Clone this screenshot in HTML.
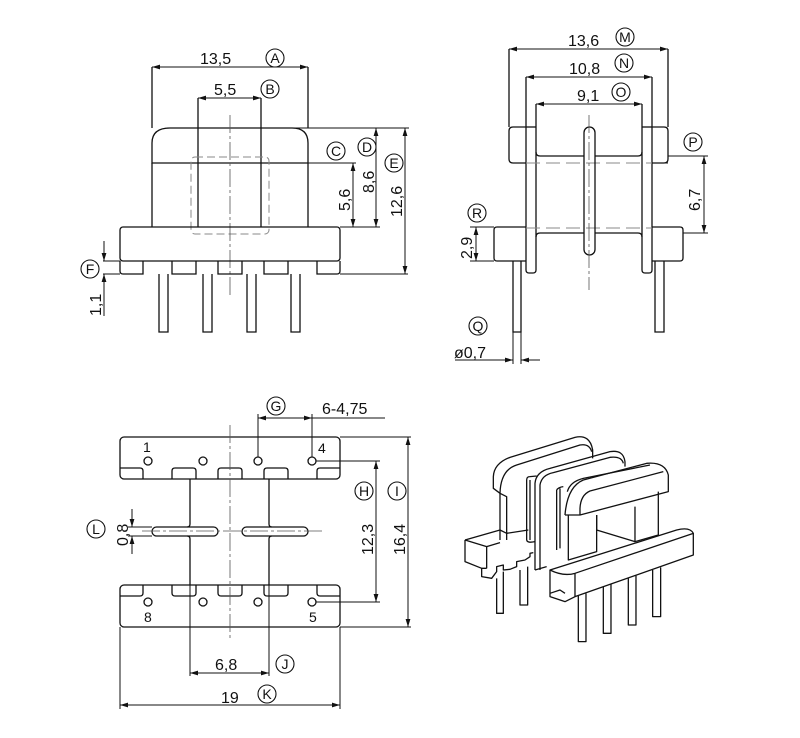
<!DOCTYPE html>
<html><head><meta charset="utf-8"><style>
html,body{margin:0;padding:0;background:#fff;}
svg{display:block;}
text{font-family:"Liberation Sans",sans-serif;fill:#111;}
.c{font-family:"Liberation Serif",serif;font-size:14px;text-anchor:middle;}
.t{font-size:16px;}
</style></head><body>
<svg width="800" height="738" viewBox="0 0 800 738" xmlns="http://www.w3.org/2000/svg">
<defs>
<marker id="a" viewBox="0 0 10 6" refX="10" refY="3" markerWidth="8" markerHeight="5" orient="auto-start-reverse" markerUnits="userSpaceOnUse"><path d="M0,0L10,3L0,6z" fill="#111"/></marker>
</defs>
<g fill="none" stroke="#111" stroke-width="1.3">
<!-- ===== TOP LEFT VIEW ===== -->
<path d="M152,163 L152,143 Q152,128 170,128 L292,128 Q308,128 308,143 L308,163 Z"/>
<path d="M152,163 L152,227 M308,163 L308,227"/>
<path d="M198,98 L198,227 M261,98 L261,227"/>
<path d="M152,67 L152,128 M308,67 L308,128"/>
<rect x="191" y="157" width="78" height="77" rx="4" stroke="#888" stroke-dasharray="8,4" stroke-width="1"/>
<path d="M230,115 L230,298" stroke="#555" stroke-width="0.8" stroke-dasharray="18,3,3,3"/>
<rect x="120" y="227" width="220" height="34" rx="3"/>
<path d="M120,261 L120,271 Q120,274 123,274 L143,274 L143,261"/>
<path d="M172,261 L172,274 L196,274 L196,261 M218,261 L218,274 L242,274 L242,261 M264,261 L264,274 L288,274 L288,261"/>
<path d="M317,261 L317,274 L337,274 Q340,274 340,271 L340,261"/>
<path d="M159,274 L159,332 L168,332 L168,274 M203,274 L203,332 L212,332 L212,274 M247,274 L247,332 L256,332 L256,274 M291,274 L291,332 L300,332 L300,274"/>
<path d="M152,67 L308,67" marker-start="url(#a)" marker-end="url(#a)" stroke-width="1"/>
<path d="M198,98 L261,98" marker-start="url(#a)" marker-end="url(#a)" stroke-width="1"/>
<path d="M308,163 L356,163 M292,128 L409,128 M340,227 L380,227 M340,274 L408,274" stroke-width="1"/>
<path d="M353,163 L353,227" marker-start="url(#a)" marker-end="url(#a)" stroke-width="1"/>
<path d="M376,128 L376,227" marker-start="url(#a)" marker-end="url(#a)" stroke-width="1"/>
<path d="M405,128 L405,274" marker-start="url(#a)" marker-end="url(#a)" stroke-width="1"/>
<path d="M103,261 L120,261 M103,274 L120,274" stroke-width="1"/>
<path d="M104,241 L104,261" marker-end="url(#a)" stroke-width="1"/>
<path d="M104,316 L104,274" marker-end="url(#a)" stroke-width="1"/>
<!-- ===== TOP RIGHT VIEW ===== -->
<path d="M509,49 L509,127 M526,77 L526,261 M536,104 L536,261 M642,104 L642,261 M652,77 L652,261 M668,49 L668,127"/>
<path d="M526,127 L513,127 Q509,127 509,131 L509,159 Q509,163 513,163 L526,163"/>
<path d="M526,127 L536,127"/>
<path d="M652,127 L664,127 Q668,127 668,131 L668,159 Q668,163 664,163 L652,163"/>
<path d="M642,127 L652,127"/>
<path d="M536,152 Q536,156 540,156 L584,156 M595,156 L638,156 Q642,156 642,152"/>
<path d="M526,163 L652,163 M526,228 L652,228" stroke="#888" stroke-dasharray="14,6" stroke-width="1"/>
<rect x="584" y="127" width="11" height="128" rx="5.5"/>
<path d="M589,115 L589,290" stroke="#555" stroke-width="0.8" stroke-dasharray="18,3,3,3"/>
<path d="M526,227 L497,227 Q494,227 494,230 L494,258 Q494,261 497,261 L526,261"/>
<path d="M652,227 L680,227 Q683,227 683,230 L683,258 Q683,261 680,261 L652,261"/>
<path d="M536,237 Q536,233 540,233 L584,233 M595,233 L638,233 Q642,233 642,237"/>
<path d="M526,261 L526,270 Q526,273 529,273 L533,273 Q536,273 536,270 L536,261"/>
<path d="M642,261 L642,270 Q642,273 645,273 L649,273 Q652,273 652,270 L652,261"/>
<path d="M513,261 L513,332 L521,332 L521,261 M655,261 L655,332 L664,332 L664,261"/>
<path d="M509,49 L668,49" marker-start="url(#a)" marker-end="url(#a)" stroke-width="1"/>
<path d="M526,77 L652,77" marker-start="url(#a)" marker-end="url(#a)" stroke-width="1"/>
<path d="M536,104 L642,104" marker-start="url(#a)" marker-end="url(#a)" stroke-width="1"/>
<path d="M668,156 L708,156 M652,163 L668,163 M683,233 L708,233" stroke-width="1"/>
<path d="M704,156 L704,233" marker-start="url(#a)" marker-end="url(#a)" stroke-width="1"/>
<path d="M470,227 L494,227 M470,261 L494,261" stroke-width="1"/>
<path d="M476,227 L476,261" marker-start="url(#a)" marker-end="url(#a)" stroke-width="1"/>
<path d="M513,332 L513,364 M521,332 L521,364" stroke-width="1"/>
<path d="M455,360 L513,360" marker-end="url(#a)" stroke-width="1"/>
<path d="M540,360 L521,360" marker-end="url(#a)" stroke-width="1"/>
<!-- ===== BOTTOM LEFT VIEW ===== -->
<rect x="120" y="437" width="220" height="42" rx="4"/>
<path d="M120,468 L140,468 Q143,468 143,471 L143,479 M172,479 L172,471 Q172,468 175,468 L193,468 Q196,468 196,471 L196,479 M218,479 L218,471 Q218,468 221,468 L239,468 Q242,468 242,471 L242,479 M264,479 L264,471 Q264,468 267,468 L285,468 Q288,468 288,471 L288,479 M317,479 L317,471 Q317,468 320,468 L340,468"/>
<rect x="120" y="585" width="220" height="42" rx="4"/>
<path d="M120,596 L140,596 Q143,596 143,593 L143,585 M172,585 L172,593 Q172,596 175,596 L193,596 Q196,596 196,593 L196,585 M218,585 L218,593 Q218,596 221,596 L239,596 Q242,596 242,593 L242,585 M264,585 L264,593 Q264,596 267,596 L285,596 Q288,596 288,593 L288,585 M317,585 L317,593 Q317,596 320,596 L340,596"/>
<circle cx="148" cy="461" r="4"/><circle cx="203" cy="461" r="4"/><circle cx="258" cy="461" r="4"/><circle cx="312" cy="461" r="4"/>
<circle cx="148" cy="602" r="4"/><circle cx="203" cy="602" r="4"/><circle cx="258" cy="602" r="4"/><circle cx="312" cy="602" r="4"/>
<path d="M190,479 L190,524 Q190,527 187,527 M190,585 L190,539 Q190,536 187,536 M269,479 L269,524 Q269,527 272,527 M269,585 L269,539 Q269,536 272,536"/>
<rect x="152" y="527" width="66" height="9" rx="4.5"/>
<rect x="242" y="527" width="66" height="9" rx="4.5"/>
<path d="M230,425 L230,640 M142,531 L325,531" stroke="#555" stroke-width="0.8" stroke-dasharray="18,3,3,3"/>
<path d="M258,457 L258,414 M312,457 L312,414" stroke-width="1"/>
<path d="M258,418 L312,418" marker-start="url(#a)" marker-end="url(#a)" stroke-width="1"/>
<path d="M312,418 L385,418" stroke-width="1"/>
<path d="M316,461 L380,461 M316,602 L380,602 M340,437 L411,437 M340,627 L411,627" stroke-width="1"/>
<path d="M376,461 L376,602" marker-start="url(#a)" marker-end="url(#a)" stroke-width="1"/>
<path d="M408,437 L408,627" marker-start="url(#a)" marker-end="url(#a)" stroke-width="1"/>
<path d="M128,527 L152,527 M128,536 L152,536" stroke-width="1"/>
<path d="M132,509 L132,527" marker-end="url(#a)" stroke-width="1"/>
<path d="M132,554 L132,536" marker-end="url(#a)" stroke-width="1"/>
<path d="M190,585 L190,676 M269,585 L269,676 M120,627 L120,709 M340,627 L340,709" stroke-width="1"/>
<path d="M190,673 L269,673" marker-start="url(#a)" marker-end="url(#a)" stroke-width="1"/>
<path d="M120,705 L340,705" marker-start="url(#a)" marker-end="url(#a)" stroke-width="1"/>
<!-- ===== 3D VIEW ===== -->
<g transform="translate(450,430) scale(0.3333)" stroke-width="3.9" stroke-linejoin="round">
<path d="M150,330 L150,190 L130,175 L130,140 Q132,100 180,82 L375,22 Q420,12 428,60 L428,85"/>
<path d="M150,190 Q152,120 200,105 L390,45 Q418,40 425,65"/>
<path d="M150,190 L170,200 L170,330"/>
<path d="M45,330 L150,300 L170,310 L235,300"/>
<path d="M45,330 L110,350 L150,338 M45,330 L45,395 L95,415 L95,440 L125,445 L140,425 L140,410 L160,405 L160,420 L180,418 L200,410 L200,395 L225,390 L240,380 L240,370 L250,368"/>
<path d="M110,350 L110,415 M110,415 L95,415"/>
<path d="M140,445 L140,550 L160,550 L160,425 M210,420 L210,525 L233,525 L233,410"/>
<path d="M255,420 L255,160 Q258,125 300,115 L480,65 Q520,58 525,95 L525,110"/>
<path d="M270,420 L270,165 Q275,135 310,128 L480,82 Q515,78 520,100"/>
<path d="M230,330 L230,150 Q230,140 240,140 L260,138 M240,330 L240,150"/>
<path d="M230,330 Q232,340 255,335"/>
<path d="M255,420 L290,410"/>
<path d="M345,255 Q352,170 400,150 L590,100 Q645,95 655,135 L655,185 L390,255 L345,255"/>
<path d="M352,185 Q360,155 400,145 L600,105"/>
<path d="M390,255 L390,235 Q392,195 420,183 L640,125"/>
<path d="M320,180 L320,360 M330,175 L330,355 M320,180 Q325,172 340,170"/>
<path d="M355,255 L355,390 L440,365 L440,255"/>
<path d="M440,300 L555,335 L625,315 L625,185 M555,230 L555,335 M440,300 L440,255"/>
<path d="M300,420 L680,300 Q720,290 730,310 L375,430 Q340,440 300,420 Z"/>
<path d="M375,430 L375,500 L730,375 L730,310"/>
<path d="M300,420 L300,500 L345,515 L375,500 M300,490 L330,480 L345,490"/>
<path d="M385,497 L385,635 L408,635 L408,490 M460,470 L460,610 L483,610 L483,462 M535,445 L535,585 L558,585 L558,437 M608,420 L608,560 L632,560 L632,412"/>
</g>
</g>
<g class="t">
<text x="200" y="64">13,5</text>
<text x="214" y="95">5,5</text>
<text x="568" y="46">13,6</text>
<text x="569" y="74">10,8</text>
<text x="577" y="101">9,1</text>
<text x="454" y="358">ø0,7</text>
<text x="322" y="414">6-4,75</text>
<text x="215" y="670">6,8</text>
<text x="221" y="703">19</text>
<text transform="translate(350,211) rotate(-90)">5,6</text>
<text transform="translate(374,193) rotate(-90)">8,6</text>
<text transform="translate(402,217) rotate(-90)">12,6</text>
<text transform="translate(101,316) rotate(-90)">1,1</text>
<text transform="translate(700,211) rotate(-90)">6,7</text>
<text transform="translate(472,259) rotate(-90)">2,9</text>
<text transform="translate(373,555) rotate(-90)">12,3</text>
<text transform="translate(405,555) rotate(-90)">16,4</text>
<text transform="translate(128,546) rotate(-90)">0,8</text>
</g>
<g font-size="14" font-family="Liberation Serif,serif">
<text x="143" y="452">1</text><text x="318" y="453">4</text>
<text x="144" y="622">8</text><text x="309" y="622">5</text>
</g>
<g fill="none" stroke="#111" stroke-width="1.1">
<circle cx="275" cy="58" r="9"/><circle cx="270" cy="89" r="9"/><circle cx="336" cy="151" r="9"/><circle cx="367" cy="147" r="9"/><circle cx="394" cy="163" r="9"/><circle cx="90" cy="269" r="9"/>
<circle cx="625" cy="37" r="9"/><circle cx="624" cy="63" r="9"/><circle cx="621" cy="92" r="9"/><circle cx="693" cy="142" r="9"/><circle cx="477" cy="213" r="9"/><circle cx="478" cy="326" r="9"/>
<circle cx="276" cy="406" r="9"/><circle cx="364" cy="491" r="9"/><circle cx="397" cy="491" r="9"/><circle cx="96" cy="529" r="9"/><circle cx="285" cy="664" r="9"/><circle cx="267" cy="694" r="9"/>
</g>
<g class="c">
<text x="275" y="63">A</text><text x="270" y="94">B</text><text x="336" y="156">C</text><text x="367" y="152">D</text><text x="394" y="168">E</text><text x="90" y="274">F</text>
<text x="625" y="42">M</text><text x="624" y="68">N</text><text x="621" y="97">O</text><text x="693" y="147">P</text><text x="477" y="218">R</text><text x="478" y="331">Q</text>
<text x="276" y="411">G</text><text x="364" y="496">H</text><text x="397" y="496">I</text><text x="96" y="534">L</text><text x="285" y="669">J</text><text x="267" y="699">K</text>
</g>
</svg>
</body></html>
